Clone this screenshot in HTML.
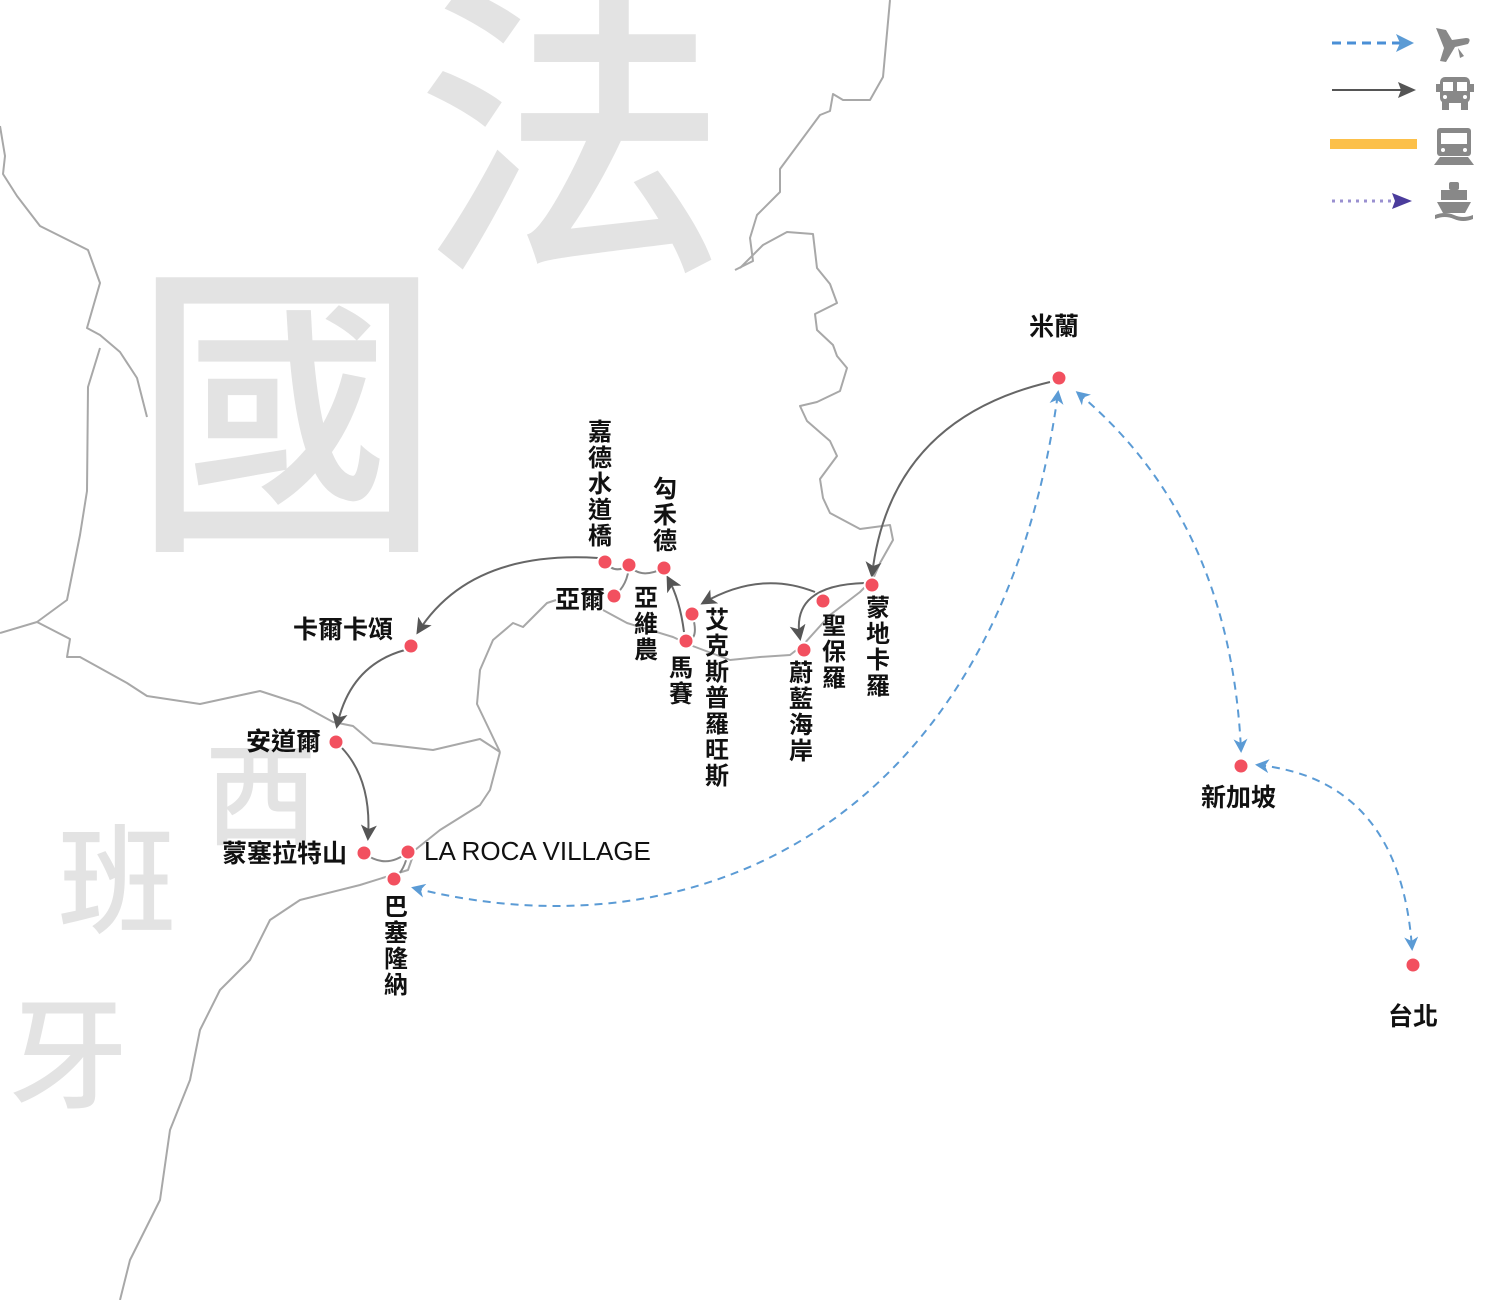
<!DOCTYPE html>
<html><head><meta charset="utf-8"><style>
html,body{margin:0;padding:0;background:#fff}
#w{position:relative;width:1500px;height:1300px;overflow:hidden;background:#fff;font-family:"Liberation Sans","Noto Sans CJK TC",sans-serif}
.wm{position:absolute;color:#e3e3e3;font-family:"Noto Sans CJK TC",sans-serif;font-weight:500;line-height:1}
.l{position:absolute;font-weight:bold;font-size:25px;color:#111;line-height:1;white-space:nowrap}
.v{position:absolute;font-weight:bold;font-size:24px;color:#111;line-height:26px;width:26px;text-align:center}
</style></head><body><div id="w">
<div class="wm" style="left:415px;top:-45px;font-size:312px">法</div>
<div class="wm" style="left:132px;top:236px;font-size:310px">國</div>
<div class="wm" style="left:205px;top:732px;font-size:112px">西</div>
<div class="wm" style="left:58px;top:814px;font-size:118px">班</div>
<div class="wm" style="left:8px;top:986px;font-size:120px">牙</div>
<svg width="1500" height="1300" style="position:absolute;left:0;top:0">
<defs>
<marker id="ab" markerWidth="14" markerHeight="14" refX="11" refY="7" orient="auto" markerUnits="userSpaceOnUse"><path d="M0,0 L14,7 L0,14 L4,7z" fill="#5b9bd5"/></marker>
<marker id="abs" markerWidth="14" markerHeight="14" refX="3" refY="7" orient="auto" markerUnits="userSpaceOnUse"><path d="M14,0 L0,7 L14,14 L10,7z" fill="#5b9bd5"/></marker>
<marker id="agl" markerWidth="16" markerHeight="16" refX="13" refY="8" orient="auto" markerUnits="userSpaceOnUse"><path d="M0,0 L16,8 L0,16 L4,8z" fill="#555"/></marker>
</defs>
<g fill="none" stroke="#a8a8a8" stroke-width="2" stroke-linejoin="round">
<polyline points="0,126 5,156 3,174 17,196 40,226 88,250 100,283 87,328 100,335 120,352 137,378 147,417"/>
<polyline points="100,348 88,387 87,491 80,535 67,600 37,622 0,633"/>
<polyline points="37,622 70,639 67,657 80,657 127,683 147,696 200,704 260,691 300,704 333,722 353,726 373,743 433,750 480,739 500,752"/>
<polyline points="500,752 477,704 480,670 493,640 513,623 523,627 547,603 556,600"/>
<polyline points="603,610 627,623 673,637 690,645 730,660 760,657 790,655 803,645 830,615 860,592 873,579"/>
<polyline points="500,752 490,790 480,805 440,830 415,850 408,870 360,885 300,900 270,920 250,960 220,990 200,1030 190,1080 170,1130 160,1200 130,1260 120,1300"/>
<polyline points="890,0 883,77 870,100 843,100 833,94 830,111 820,115 780,169 780,192 757,215 750,238 753,261 735,270"/>
<polyline points="740,268 763,245 787,232 813,234 817,268 830,284 837,303 815,314 817,330 833,345 837,356 847,368 840,391 817,402 800,406 807,421 830,441 837,456 820,479 823,498 830,513 860,529 890,525 893,540 880,563 873,579"/>
</g>
<g fill="none" stroke="#888" stroke-width="2">
<path d="M605,562 Q615,575 629,565 Q640,580 664,568"/>
<path d="M614,596 Q628,585 629,565"/>
<path d="M692,614 Q700,640 686,641"/>
<path d="M364,853 Q386,870 408,852"/>
<path d="M408,852 Q405,870 394,879"/>
</g>
<g fill="none" stroke="#666" stroke-width="2">
<path d="M1050,382 Q890,420 872,575" marker-end="url(#agl)"/>
<path d="M865,583 Q790,585 800,638" marker-end="url(#agl)"/>
<path d="M815,592 Q760,570 703,603" marker-end="url(#agl)"/>
<path d="M684,632 Q680,600 668,578" marker-end="url(#agl)"/>
<path d="M598,558 Q470,550 418,632" marker-end="url(#agl)"/>
<path d="M405,650 Q350,665 337,726" marker-end="url(#agl)"/>
<path d="M342,748 Q372,780 368,838" marker-end="url(#agl)"/>
</g>
<g fill="none" stroke="#5b9bd5" stroke-width="2" stroke-dasharray="8,6">
<path d="M414,888 C700,960 1000,820 1058,393" marker-start="url(#abs)" marker-end="url(#ab)"/>
<path d="M1078,393 Q1230,520 1241,750" marker-start="url(#abs)" marker-end="url(#ab)"/>
<path d="M1258,765 Q1400,780 1412,948" marker-start="url(#abs)" marker-end="url(#ab)"/>
</g>
<g fill="#f2505f" stroke="#fff" stroke-width="2">
<circle cx="1059" cy="378" r="7.5"/><circle cx="1241" cy="766" r="7.5"/><circle cx="1413" cy="965" r="7.5"/>
<circle cx="872" cy="585" r="7.5"/><circle cx="823" cy="601" r="7.5"/><circle cx="804" cy="650" r="7.5"/>
<circle cx="692" cy="614" r="7.5"/><circle cx="686" cy="641" r="7.5"/><circle cx="664" cy="568" r="7.5"/>
<circle cx="629" cy="565" r="7.5"/><circle cx="605" cy="562" r="7.5"/><circle cx="614" cy="596" r="7.5"/>
<circle cx="411" cy="646" r="7.5"/><circle cx="336" cy="742" r="7.5"/><circle cx="364" cy="853" r="7.5"/>
<circle cx="408" cy="852" r="7.5"/><circle cx="394" cy="879" r="7.5"/>
</g>
<line x1="1332" y1="43" x2="1400" y2="43" stroke="#4a8fd6" stroke-width="3" stroke-dasharray="9,6"/>
<path d="M1396,34 L1414,43 L1396,52 L1400,43z" fill="#5b9bd5"/>
<line x1="1332" y1="90" x2="1402" y2="90" stroke="#555" stroke-width="2"/>
<path d="M1398,82 L1416,90 L1398,98 L1401,90z" fill="#555"/>
<rect x="1330" y="139" width="87" height="10" fill="#fcc04a"/>
<line x1="1332" y1="201" x2="1394" y2="201" stroke="#9a90d0" stroke-width="3" stroke-dasharray="3,5"/>
<path d="M1392,193 L1412,201 L1392,209 L1395,201z" fill="#4b3c9c"/>
<g fill="#888">
<path d="M1436,28 L1446,30 L1452,40 L1466,38 Q1472,38 1468,44 L1455,47 L1446,62 L1440,61 L1444,48 L1436,28z"/>
<path d="M1458,48 L1464,56 L1460,58z"/>
<rect x="1440" y="77" width="30" height="26" rx="5"/><rect x="1442" y="102" width="7" height="8"/><rect x="1461" y="102" width="7" height="8"/>
<rect x="1436" y="84" width="4" height="8"/><rect x="1470" y="84" width="4" height="8"/>
<rect x="1437" y="128" width="34" height="28" rx="3"/><path d="M1434,165 L1474,165 L1468,157 L1440,157z"/>
<rect x="1449" y="182" width="10" height="8" rx="2"/><rect x="1441" y="190" width="26" height="10"/>
<path d="M1437,202 L1471,202 L1465,213 L1443,213z"/><path d="M1435,215 Q1445,211 1454,215 Q1463,219 1473,215 L1473,219 Q1463,223 1454,219 Q1445,215 1435,219z"/>
</g>
<g fill="#fff"><rect x="1443" y="82" width="10" height="9"/><rect x="1457" y="82" width="10" height="9"/><circle cx="1445" cy="97" r="2"/><circle cx="1465" cy="97" r="2"/>
<rect x="1441" y="133" width="26" height="11"/><circle cx="1443" cy="150" r="2"/><circle cx="1465" cy="150" r="2"/></g>
</svg>
<div class="l" style="left:1029px;top:315px">米蘭</div>
<div class="l" style="left:1201px;top:786px">新加坡</div>
<div class="l" style="left:1388px;top:1005px">台北</div>
<div class="l" style="left:293px;top:618px">卡爾卡頌</div>
<div class="l" style="left:246px;top:730px">安道爾</div>
<div class="l" style="left:222px;top:842px">蒙塞拉特山</div>
<div class="l" style="left:424px;top:838px;font-size:26px;font-weight:normal;color:#111">LA ROCA VILLAGE</div>
<div class="l" style="left:555px;top:588px">亞爾</div>
<div class="v" style="left:587px;top:420px">嘉德水道橋</div>
<div class="v" style="left:652px;top:477px">勾禾德</div>
<div class="v" style="left:633px;top:586px">亞維農</div>
<div class="v" style="left:668px;top:656px">馬賽</div>
<div class="v" style="left:704px;top:608px">艾克斯普羅旺斯</div>
<div class="v" style="left:788px;top:661px">蔚藍海岸</div>
<div class="v" style="left:821px;top:614px">聖保羅</div>
<div class="v" style="left:865px;top:596px">蒙地卡羅</div>
<div class="v" style="left:383px;top:895px">巴塞隆納</div>
</div></body></html>
